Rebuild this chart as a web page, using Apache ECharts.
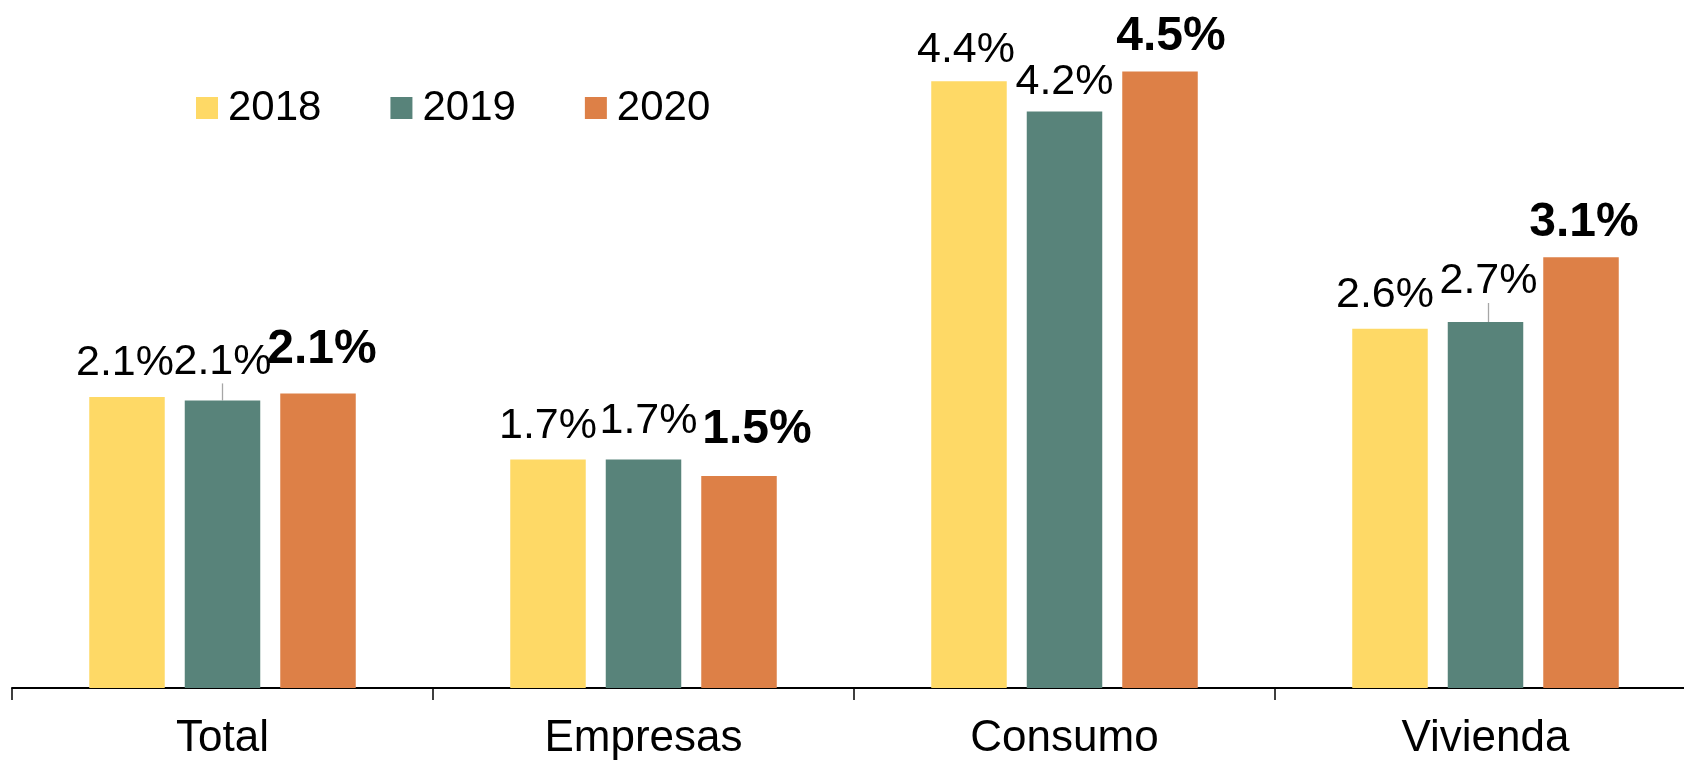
<!DOCTYPE html>
<html>
<head>
<meta charset="utf-8">
<script src="https://cdn.jsdelivr.net/npm/echarts@6/dist/echarts.min.js"></script>
<style>
html,body{margin:0;padding:0;background:#fff;}
#chart{width:1684px;height:760px;}
</style>
</head>
<body>
<div id="chart"></div>
<script>
const categories = ['Total', 'Empresas', 'Consumo', 'Vivienda'];
const years = ['2018', '2019', '2020'];
const values2018 = [2.115, 1.66, 4.41, 2.61];
const values2019 = [2.09, 1.66, 4.19, 2.66];
const values2020 = [2.14, 1.54, 4.48, 3.13];

// label nudges (layout only, px): [dx, dy] per category
const nudge2018 = [[-2, 0], [0, 0], [-3, 2], [-5, 0]];
const nudge2019 = [[0, -5], [5, -5], [0, 4], [3, -7]];
const nudge2020 = [[4, -3], [18, -5], [11, 6], [3, 6]];
const guideLines2019 = [0, 3];

const colors = ['#FED966', '#58837A', '#DD8047'];
const FONT = '"Liberation Sans", Arial, sans-serif';

const chart = echarts.init(document.getElementById('chart'));

function makeSeries(name, values, color, bold, nudge, guides) {
  return {
    name: name,
    type: 'bar',
    data: values.map((v, i) => ({
      value: v,
      labelLine: { show: guides.indexOf(i) >= 0 }
    })),
    barWidth: 75.5,
    barGap: '26.5%',
    itemStyle: { color: color },
    label: {
      show: true,
      position: 'top',
      distance: bold ? 17 : 12,
      color: '#000',
      fontFamily: FONT,
      fontSize: bold ? 48 : 43,
      fontWeight: bold ? 'bold' : 'normal',
      formatter: p => p.value.toFixed(1) + '%'
    },
    labelLine: { show: false, lineStyle: { color: '#A6A6A6', width: 1.3 } },
    labelLayout: function (p) {
      const n = nudge[p.dataIndex];
      return { dx: n[0], dy: n[1] };
    }
  };
}

chart.setOption({
  animation: false,
  backgroundColor: '#fff',
  grid: { left: 12, width: 1684, top: 0, bottom: 72, containLabel: false, outerBoundsMode: 'none' },
  legend: {
    data: years,
    left: 196,
    top: 87,
    padding: 0,
    icon: 'rect',
    itemWidth: 22,
    itemHeight: 22,
    itemGap: 69,
    textStyle: { fontFamily: FONT, fontSize: 42, color: '#000', padding: [0, 0, 0, 5] }
  },
  xAxis: {
    type: 'category',
    data: categories,
    axisLine: { lineStyle: { color: '#000', width: 2 } },
    axisTick: { show: true, length: 12, lineStyle: { color: '#000', width: 1.5 } },
    axisLabel: { fontFamily: FONT, fontSize: 44, color: '#000', margin: 29 }
  },
  yAxis: {
    type: 'value',
    min: 0,
    max: 5,
    show: false,
    splitLine: { show: false }
  },
  series: [
    makeSeries(years[0], values2018, colors[0], false, nudge2018, []),
    makeSeries(years[1], values2019, colors[1], false, nudge2019, guideLines2019),
    makeSeries(years[2], values2020, colors[2], true, nudge2020, [])
  ]
});
</script>
</body>
</html>
